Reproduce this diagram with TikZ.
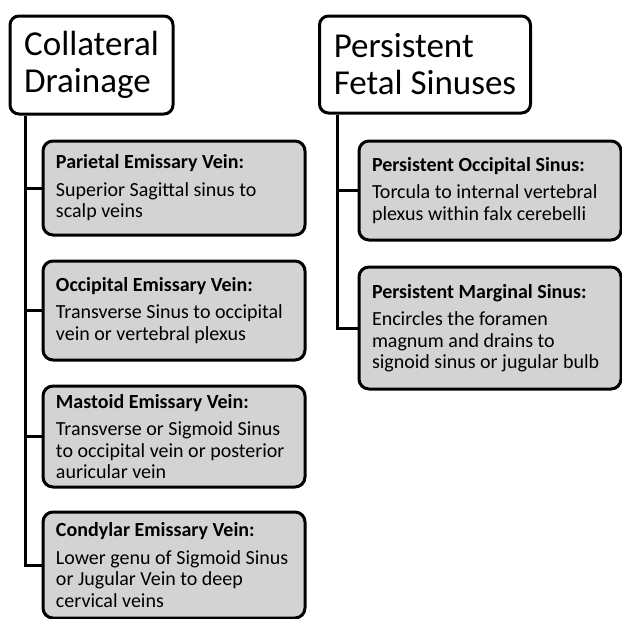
\documentclass[tikz,border=0pt]{standalone}
\usepackage{fontspec}
\setmainfont{Carlito}
\usetikzlibrary{positioning}
\definecolor{boxgray}{RGB}{211,211,211}

\begin{document}
\begin{tikzpicture}[x=1pt,y=-1pt,
    header/.style={draw, line width=3pt, rounded corners=9pt, fill=white,
      anchor=north west, align=left, font=\fontsize{35}{37}\selectfont},
    leaf/.style={draw, line width=3pt, rounded corners=10pt, fill=boxgray,
      anchor=north west, align=flush left, inner xsep=13pt, inner ysep=0pt,
      minimum width=262pt, text width=236pt,
      font=\fontsize{20}{21.5}\selectfont},
    link/.style={line width=3pt}]
  \useasboundingbox (0,0) rectangle (622,619);

  % headers
  \node[header, minimum width=163pt, minimum height=98pt] (h1) at (8.5,14.5)
    {Collateral\\Drainage};
  \node[header, minimum width=211pt, minimum height=97pt] (h2) at (318,14.5)
    {Persistent\\Fetal Sinuses};

  % left column
  \node[leaf, minimum height=94pt] (a1) at (41.5,139.5)
    {\textbf{Parietal Emissary Vein:}\\[6pt]Superior Sagittal sinus to\\scalp veins};
  \node[leaf, minimum height=99pt] (a2) at (41.5,259.5)
    {\textbf{Occipital Emissary Vein:}\\[6pt]Transverse Sinus to occipital\\vein or vertebral plexus};
  \node[leaf, minimum height=101pt] (a3) at (41.5,384.5)
    {\textbf{Mastoid Emissary Vein:}\\[6pt]Transverse or Sigmoid Sinus\\to occipital vein or posterior\\auricular vein};
  \node[leaf, minimum height=106pt] (a4) at (41.5,510.5)
    {\textbf{Condylar Emissary Vein:}\\[6pt]Lower genu of Sigmoid Sinus\\or Jugular Vein to deep\\cervical veins};

  % right column
  \node[leaf, minimum height=99pt] (b1) at (357.5,139.5)
    {\textbf{Persistent Occipital Sinus:}\\[6pt]Torcula to internal vertebral\\plexus within falx cerebelli};
  \node[leaf, minimum height=122pt] (b2) at (357.5,265.5)
    {\textbf{Persistent Marginal Sinus:}\\[6pt]Encircles the foramen\\magnum and drains to\\signoid sinus or jugular bulb};

  % connectors
  \coordinate (ta) at (25,0);
  \coordinate (tb) at (337,0);
  \foreach \n in {a1,a2,a3,a4}
    \draw[link] (h1.south -| ta) |- (\n.west);
  \foreach \n in {b1,b2}
    \draw[link] (h2.south -| tb) |- (\n.west);
\end{tikzpicture}
\end{document}
